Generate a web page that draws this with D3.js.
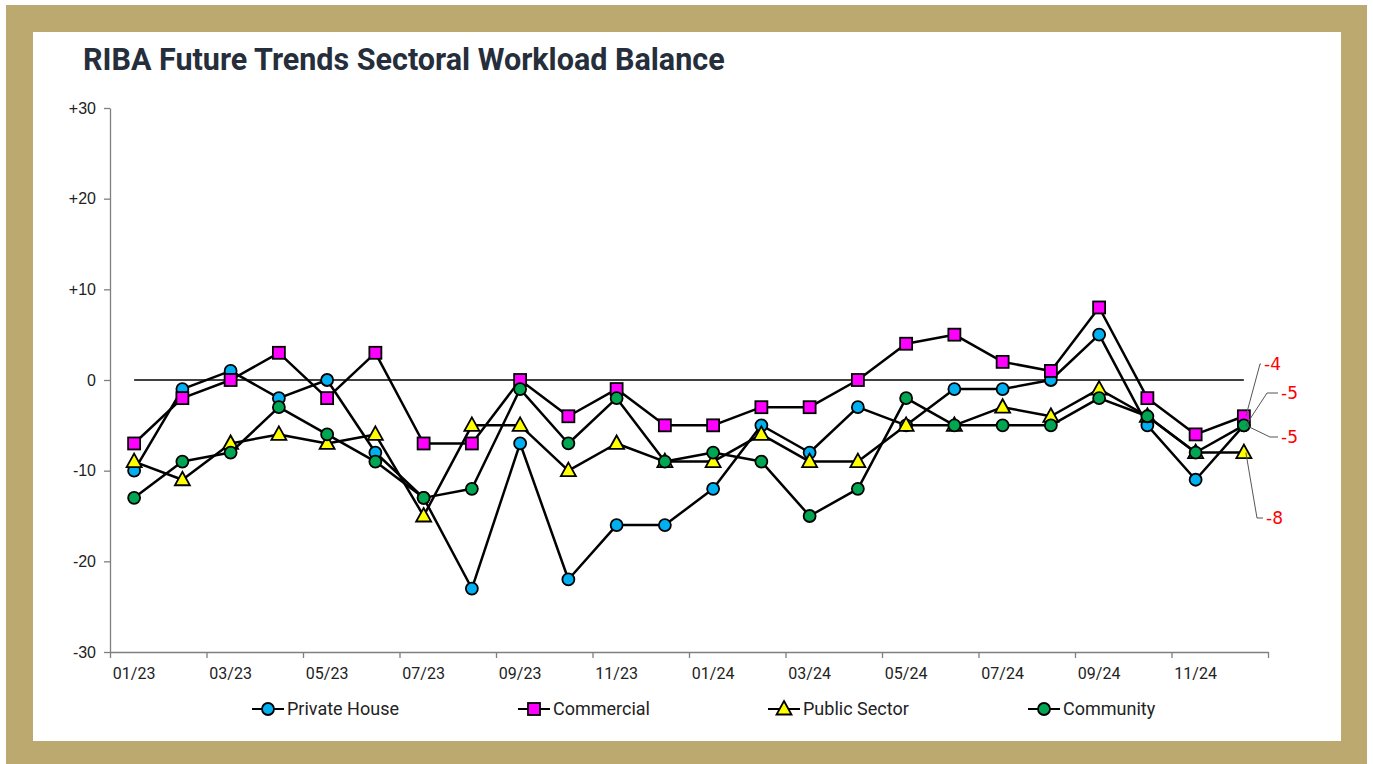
<!DOCTYPE html>
<html>
<head>
<meta charset="utf-8">
<script src="https://cdn.jsdelivr.net/npm/d3@7"></script>
<style>
  html, body { margin: 0; padding: 0; background: #fff; }
  svg { display: block; }
</style>
</head>
<body>
<div id="chart"></div>
<script>
// months on the category axis
const months = ["01/23","02/23","03/23","04/23","05/23","06/23","07/23","08/23","09/23","10/23","11/23","12/23",
                "01/24","02/24","03/24","04/24","05/24","06/24","07/24","08/24","09/24","10/24","11/24","12/24"];

const privateHouse = [-10,-1,1,-2,0,-8,-13,-23,-7,-22,-16,-16,-12,-5,-8,-3,-5,-1,-1,0,5,-5,-11,-5];
const commercial   = [-7,-2,0,3,-2,3,-7,-7,0,-4,-1,-5,-5,-3,-3,0,4,5,2,1,8,-2,-6,-4];
const publicSector = [-9,-11,-7,-6,-7,-6,-15,-5,-5,-10,-7,-9,-9,-6,-9,-9,-5,-5,-3,-4,-1,-4,-8,-8];
const community    = [-13,-9,-8,-3,-6,-9,-13,-12,-1,-7,-2,-9,-8,-9,-15,-12,-2,-5,-5,-5,-2,-4,-8,-5];

const yTicks = [-30,-20,-10,0,10,20,30];

const series = [
    { name: "Private House", values: privateHouse, fill: "#00b0f0", shape: "circle" },
    { name: "Commercial",    values: commercial,   fill: "#ff00ff", shape: "square" },
    { name: "Public Sector", values: publicSector, fill: "#ffff00", shape: "triangle" },
    { name: "Community",     values: community,    fill: "#00a651", shape: "circle" }
];

const W = 1373, H = 764;
const svg = d3.select("#chart").append("svg").attr("width", W).attr("height", H);

// frame
svg.append("rect").attr("x", 6).attr("y", 5).attr("width", 1361).attr("height", 759).attr("fill", "#bca96f");
svg.append("rect").attr("x", 33).attr("y", 32).attr("width", 1308).attr("height", 709).attr("fill", "#fff");

svg.append("text")
    .attr("x", 83).attr("y", 70)
    .style("font-family", "Roboto, sans-serif")
    .style("font-weight", "bold")
    .style("font-size", "30.5px")
    .attr("fill", "#252e3a")
    .text("RIBA Future Trends Sectoral Workload Balance");

const x = d3.scaleBand().domain(months).range([110, 1268]);
const cx = m => x(m) + x.bandwidth() / 2;
const xi = d3.scaleLinear().domain([0, months.length]).range([110, 1268]);
const y = d3.scaleLinear().domain([-30, 30]).range([652, 108]);

// y axis
const yAxis = svg.append("g")
    .attr("transform", "translate(110,0)")
    .call(d3.axisLeft(y).tickValues(yTicks).tickSize(6).tickSizeOuter(0).tickPadding(8)
        .tickFormat(d => d > 0 ? "+" + d : d));
yAxis.selectAll("path, line").attr("stroke", "#7f7f7f").attr("stroke-width", 1.3);
yAxis.selectAll("text")
    .style("font-family", "'Liberation Sans', Arial, sans-serif")
    .style("font-size", "16px")
    .attr("fill", "#222");

// x axis: ticks on category boundaries every two months
const xAxis = svg.append("g")
    .attr("transform", `translate(0,${y(-30)})`)
    .call(d3.axisBottom(xi).tickValues(d3.range(0, months.length + 1, 2)).tickSize(6).tickSizeOuter(0).tickFormat(""));
xAxis.selectAll("path, line").attr("stroke", "#7f7f7f").attr("stroke-width", 1.3);

svg.append("g").selectAll("text")
    .data(months.filter((m, i) => i % 2 === 0))
    .enter().append("text")
    .attr("x", d => cx(d))
    .attr("y", y(-30) + 27)
    .attr("text-anchor", "middle")
    .style("font-family", "Roboto, sans-serif")
    .style("font-size", "16px")
    .attr("fill", "#222")
    .text(d => d);

// zero line
svg.append("line")
    .attr("x1", cx(months[0])).attr("x2", cx(months[months.length - 1]))
    .attr("y1", y(0)).attr("y2", y(0))
    .attr("stroke", "#000").attr("stroke-width", 1.5);

function drawMarker(g, shape, fill, px, py) {
    if (shape === "circle") {
        g.append("circle").attr("cx", px).attr("cy", py).attr("r", 6)
            .attr("fill", fill).attr("stroke", "#000").attr("stroke-width", 1.8);
    } else if (shape === "square") {
        g.append("rect").attr("x", px - 6).attr("y", py - 6).attr("width", 12).attr("height", 12)
            .attr("fill", fill).attr("stroke", "#000").attr("stroke-width", 1.8);
    } else {
        g.append("path")
            .attr("d", `M${px},${py - 8}L${px + 7.5},${py + 5.5}L${px - 7.5},${py + 5.5}Z`)
            .attr("fill", fill).attr("stroke", "#000").attr("stroke-width", 1.8)
            .attr("stroke-linejoin", "miter");
    }
}

const line = d3.line()
    .x((d, i) => cx(months[i]))
    .y(d => y(d));

const plot = svg.append("g");
series.forEach(s => {
    plot.append("path")
        .datum(s.values)
        .attr("fill", "none")
        .attr("stroke", "#000")
        .attr("stroke-width", 2.5)
        .attr("stroke-linejoin", "round")
        .attr("d", line);
    s.values.forEach((v, i) => drawMarker(plot, s.shape, s.fill, cx(months[i]), y(v)));
});

// end-point labels with leader lines (offsets are layout only)
const lastM = months[months.length - 1];
const endLabels = [
    { s: series[1], ex: 1260, ey: 364, tx: 1264 },
    { s: series[0], ex: 1267, ey: 393, tx: 1281 },
    { s: series[3], ex: 1270, ey: 437, tx: 1281 },
    { s: series[2], ex: 1257, ey: 518, tx: 1266 }
];
endLabels.forEach(l => {
    const v = l.s.values[l.s.values.length - 1];
    const px = cx(lastM) + 2, py = y(v);
    svg.append("path")
        .attr("d", `M${px},${py}L${l.ex},${l.ey}L${l.tx - 3},${l.ey}`)
        .attr("fill", "none").attr("stroke", "#555").attr("stroke-width", 1);
    svg.append("text")
        .attr("x", l.tx).attr("y", l.ey + 6)
        .style("font-family", "'DejaVu Sans', sans-serif")
        .style("font-size", "17px")
        .attr("fill", "#ff0000")
        .text(v);
});

// legend
const legendX = [268, 534, 784, 1044];
const legend = svg.append("g");
series.forEach((s, i) => {
    const lx = legendX[i], ly = 709;
    legend.append("line")
        .attr("x1", lx - 16).attr("x2", lx + 16).attr("y1", ly).attr("y2", ly)
        .attr("stroke", "#000").attr("stroke-width", 2);
    drawMarker(legend, s.shape, s.fill, lx, ly);
    legend.append("text")
        .attr("x", lx + 19).attr("y", ly + 6)
        .style("font-family", "Roboto, sans-serif")
        .style("font-size", "18px")
        .attr("fill", "#222")
        .text(s.name);
});
</script>
</body>
</html>
